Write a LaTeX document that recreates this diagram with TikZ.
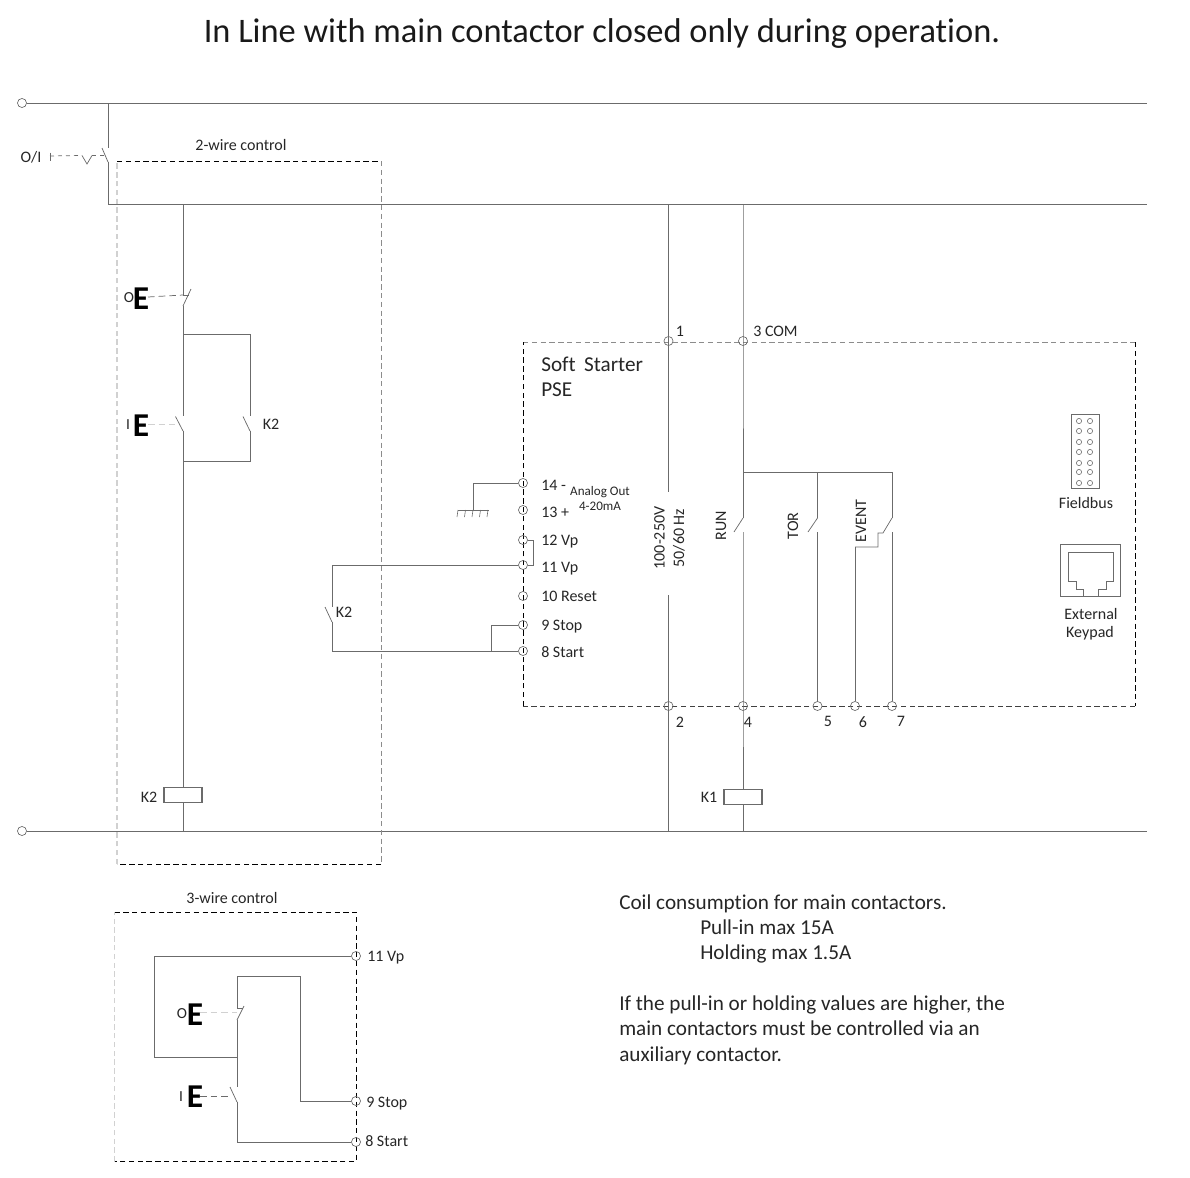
\documentclass[tikz,border=0pt]{standalone}
\usepackage{fontspec}
\setmainfont[Ligatures=NoCommon]{Carlito}
\tikzset{
  wire/.style={draw=wiregray, line width=0.7pt},
  thin wire/.style={draw=wiregray, line width=0.55pt},
  ctrl/.style={draw=black, line width=0.7pt, dash pattern=on 4pt off 2.6pt},
  ctrl gray/.style={draw=midgray, line width=0.7pt, dash pattern=on 4pt off 2.6pt},
  ctrl pale/.style={draw=palegray, line width=0.8pt, dash pattern=on 4pt off 2.6pt},
  term/.style={circle, draw=wiregray, line width=0.5pt, inner sep=0pt, minimum size=6.8pt},
  pin/.style={circle, draw=wiregray, line width=0.45pt, inner sep=0pt, minimum size=3.9pt},
  coil/.style={rectangle, draw=wiregray, fill=white, line width=0.8pt, inner sep=0pt, minimum width=28.5pt, minimum height=11pt},
  lbl/.style={inner sep=0pt, anchor=west, font=\fontsize{12}{14}\selectfont, text=black!85},
  mid/.style={inner sep=0pt, font=\fontsize{12}{14}\selectfont, text=black!85},
  note/.style={inner sep=0pt, anchor=west, font=\fontsize{15.9}{18}\selectfont, text=black!85},
  bigE/.style={inner sep=0pt, font=\fontsize{25}{28}\selectfont\bfseries, text=black},
  small/.style={inner sep=0pt, font=\fontsize{11.5}{13}\selectfont, text=black!85}
}
\definecolor{wiregray}{gray}{0.42}
\definecolor{midgray}{gray}{0.55}
\definecolor{palegray}{gray}{0.82}
\begin{document}
\begin{tikzpicture}[x=0.75pt,y=-0.75pt]
\useasboundingbox (0,0) rectangle (1190,1178);
\node (title) at (602,34) [inner sep=0pt, font=\fontsize{25.8}{30}\selectfont, text=black!90] {In Line with main contactor closed only during operation.};
% rails
\node (railL) at (22,103) [term] {};
\node (rail0) at (22,831) [term] {};
\coordinate (railR) at (1147,103);
\coordinate (rail0R) at (1147,831);
\coordinate (railN) at (1147,204.5);
\draw [wire] (railL) -- (railR);
\draw [wire] (rail0) -- (rail0R);
% main switch O/I
\coordinate (mainT) at (108,103);
\coordinate (mainA) at (108,148);
\coordinate (mainB) at (102,148);
\coordinate (mainC) at (108,162);
\coordinate (mainD) at (108,204.5);
\draw [wire] (mainT) -- (mainA);
\draw [thin wire] (mainB) -- (mainC);
\draw [wire] (mainC) -- (mainD) -- (railN);
\node (oi) at (31,157) [mid] {O/I};
\coordinate (tickA) at (50,152.5);
\coordinate (tickB) at (50,161);
\coordinate (tickC) at (50,156);
\coordinate (veeA) at (82,155.5);
\coordinate (veeB) at (87,164);
\coordinate (veeC) at (92,155.5);
\coordinate (veeD) at (105,155.5);
\draw [thin wire] (tickA) -- (tickB);
\draw [thin wire, dashed] (tickC) -- (veeA);
\draw [thin wire] (veeA) -- (veeB) -- (veeC);
\draw [thin wire, dashed] (veeC) -- (veeD);
% 2-wire control box
\coordinate (boxA) at (117,161);
\coordinate (boxB) at (381,161);
\coordinate (boxC) at (381,864);
\coordinate (boxD) at (117,864);
\draw [ctrl] (boxA) -- (boxB);
\draw [ctrl gray] (boxB) -- (boxC);
\draw [ctrl] (boxC) -- (boxD);
\draw [ctrl pale] (boxD) -- (boxA);
\node (twoWire) at (241,145) [mid] {2-wire control};
% left branch
\coordinate (lineT) at (183,204.5);
\coordinate (stopA) at (183,295);
\coordinate (stopB) at (189,295);
\coordinate (stopC) at (191,289);
\coordinate (stopD) at (183,306);
\coordinate (holdT) at (183,334);
\coordinate (holdR) at (250,334);
\coordinate (holdA) at (250,416);
\coordinate (holdB) at (243,416.5);
\coordinate (holdC) at (250,431);
\coordinate (holdE) at (250,461);
\coordinate (holdF) at (183,461);
\coordinate (startA) at (183,416);
\coordinate (startB) at (175.5,416.5);
\coordinate (startC) at (183,431);
\node (coilK2) at (183,795) [coil] {};
\coordinate (coilK2b) at (183,831);
\draw [wire] (lineT) -- (stopA) -- (stopB);
\draw [thin wire] (stopC) -- (stopD);
\draw [wire] (stopD) -- (startA);
\draw [thin wire] (startB) -- (startC);
\draw [wire] (startC) -- (coilK2);
\draw [wire] (coilK2) -- (coilK2b);
\draw [wire] (holdT) -- (holdR) -- (holdA);
\draw [thin wire] (holdB) -- (holdC);
\draw [wire] (holdC) -- (holdE) -- (holdF);
\node (labelK2) at (149,797) [mid] {K2};
\node (labelHold) at (271,424) [mid] {K2};
\node (btnO) at (141,299) [bigE] {E};
\node (btnOl) at (129,298) [small] {O};
\node (btnI) at (141,426) [bigE] {E};
\node (btnIl) at (128,425) [small] {I};
\coordinate (dashOa) at (148,297);
\coordinate (dashIa) at (148,424);
\coordinate (dashIb) at (175,424);
\draw [thin wire, dash pattern=on 5pt off 3pt] (dashOa) -- (stopA);
\draw [draw=palegray, line width=0.6pt, dash pattern=on 5pt off 3pt] (dashIa) -- (dashIb);
% soft starter
\coordinate (ssA) at (523,342);
\coordinate (ssB) at (1135,342);
\coordinate (ssC) at (1135,706);
\coordinate (ssD) at (523,706);
\draw [ctrl gray] (ssA) -- (ssB);
\draw [ctrl] (ssB) -- (ssC);
\draw [ctrl, draw=black!75] (ssC) -- (ssD);
\draw [ctrl] (ssD) -- (ssA);
\node (ssName) at (541,364) [note] {Soft\, Starter};
\node (ssType) at (541,390) [note] {PSE};
% terminals top and bottom
\node (t1) at (668.5,341) [term] {};
\node (t3) at (743,341) [term] {};
\node (t2) at (668.5,706) [term] {};
\node (t4) at (743,706) [term] {};
\node (t5) at (817.5,706) [term] {};
\node (t6) at (855,706) [term] {};
\node (t7) at (892,706) [term] {};
\node (l1) at (680,331) [mid] {1};
\node (l3) at (753,331) [lbl] {3 COM};
\node (l2) at (680,722) [mid] {2};
\node (l4) at (748,722) [mid] {4};
\node (l5) at (828,721) [mid] {5};
\node (l6) at (863,722) [mid] {6};
\node (l7) at (901,721) [mid] {7};
% supply
\coordinate (supT) at (668.5,204.5);
\coordinate (supA) at (668.5,492);
\coordinate (supB) at (668.5,595);
\coordinate (supE) at (668.5,831);
\draw [wire] (supT) -- (t1.center) -- (supA);
\draw [wire] (supB) -- (t2.center) -- (supE);
\node (volt) at (659.5,538) [mid, rotate=90] {100-250V};
\node (freq) at (679,538) [mid, rotate=90] {50/60 Hz};
% relay outputs
\coordinate (comT) at (743,204.5);
\coordinate (relJ) at (743,472);
\coordinate (relK) at (817.5,472);
\coordinate (relL) at (892,472);
\coordinate (runA) at (743,518);
\coordinate (runB) at (734,532);
\coordinate (runC) at (743,532);
\coordinate (torA) at (817.5,518);
\coordinate (torB) at (808,532);
\coordinate (torC) at (817.5,532);
\coordinate (evA) at (892,518);
\coordinate (evB) at (883,533);
\coordinate (evC) at (892,532);
\coordinate (evD) at (878,533);
\coordinate (evE) at (878,547);
\coordinate (evF) at (855,547);
\node (coilK1) at (743,797) [coil] {};
\coordinate (coilK1b) at (743,831);
\draw [wire] (comT) -- (t3.center) -- (runA);
\draw [thin wire] (runA) -- (runB);
\draw [wire] (runC) -- (t4.center) -- (coilK1);
\draw [wire] (coilK1) -- (coilK1b);
\draw [wire] (relJ) -- (relL) -- (evA);
\draw [wire] (relK) -- (torA);
\draw [thin wire] (torA) -- (torB);
\draw [wire] (torC) -- (t5);
\draw [thin wire] (evA) -- (evB) -- (evD) -- (evE) -- (evF);
\draw [wire] (evF) -- (t6);
\draw [wire] (evC) -- (t7);
\node (run) at (721,526) [mid, rotate=90] {RUN};
\node (tor) at (793,526) [mid, rotate=90] {TOR};
\node (event) at (861,521) [mid, rotate=90] {EVENT};
\node (labelK1) at (709,797) [mid] {K1};
% control terminals
\node (t14) at (523,483) [term] {};
\node (t13) at (523,510) [term] {};
\node (t12) at (523,540) [term] {};
\node (t11) at (523,565) [term] {};
\node (t10) at (523,596) [term] {};
\node (t9) at (523,625) [term] {};
\node (t8) at (523,651) [term] {};
\node (l14) at (541,485) [lbl] {14 -};
\node (l13) at (541,512) [lbl] {13 +};
\node (l12) at (541,542) [lbl] {12 Vp};
\node (l11) at (541,569) [lbl] {11 Vp};
\node (l10) at (541,596) [lbl] {10 Reset};
\node (l9) at (541,627) [lbl] {9 Stop};
\node (l8) at (541,652) [lbl] {8 Start};
\node (analog) at (600,492) [inner sep=0pt, font=\fontsize{9.8}{11}\selectfont, text=black!85] {Analog Out};
\node (analogB) at (600,506) [inner sep=0pt, font=\fontsize{9.8}{11}\selectfont, text=black!85] {4-20mA};
% analog out earth
\coordinate (gndA) at (473,483);
\coordinate (gndB) at (473,510);
\coordinate (gndL) at (457.5,510);
\coordinate (gndR) at (488.5,510);
\draw [thin wire] (t14) -- (gndA) -- (gndB);
\draw [thin wire] (gndL) -- (gndR);
\foreach \gx in {458,465.5,473,480.5,488}
  \draw [draw=wiregray, line width=0.45pt] (\gx,510) -- (\gx-1,517);
% bridge and K2 aux
\coordinate (brA) at (533,540);
\coordinate (brB) at (533,565);
\draw [thin wire] (t12) -- (brA) -- (brB) -- (t11);
\coordinate (auxT) at (332,565);
\coordinate (auxA) at (332,607);
\coordinate (auxB) at (325,607);
\coordinate (auxC) at (332,622);
\coordinate (auxE) at (332,651);
\coordinate (stopJ) at (491,651);
\coordinate (stopK) at (491,625);
\draw [thin wire] (t11) -- (auxT) -- (auxA);
\draw [thin wire] (auxB) -- (auxC);
\draw [thin wire] (auxC) -- (auxE) -- (t8);
\draw [thin wire] (stopJ) -- (stopK) -- (t9);
\node (labelAux) at (344,612) [mid] {K2};
% fieldbus and keypad
\node (fbus) at (1085,451.5) [rectangle, draw=wiregray, line width=0.6pt, inner sep=0pt, minimum width=21pt, minimum height=56pt] {};
\foreach \py in {421,431,442,452,463,472,483}
  \foreach \px in {1079,1090}
    \node at (\px,\py) [pin] {};
\node (fbusL) at (1086,503) [mid] {Fieldbus};
\node (keyp) at (1090.5,570) [rectangle, draw=wiregray, line width=0.6pt, inner sep=0pt, minimum width=44.5pt, minimum height=39pt] {};
\coordinate (kA) at (1068,552);
\coordinate (kB) at (1113,552);
\coordinate (kC) at (1113,581);
\coordinate (kD) at (1106,581);
\coordinate (kE) at (1106,589);
\coordinate (kF) at (1098,589);
\coordinate (kG) at (1098,596);
\coordinate (kH) at (1083,596);
\coordinate (kI) at (1083,589);
\coordinate (kJ) at (1076,589);
\coordinate (kK) at (1076,581);
\coordinate (kL) at (1068,581);
\draw [thin wire] (kA) -- (kB) -- (kC) -- (kD) -- (kE) -- (kF) -- (kG) -- (kH) -- (kI) -- (kJ) -- (kK) -- (kL) -- cycle;
\node (keyL) at (1091,614) [mid] {External};
\node (keyM) at (1090,633) [mid] {Keypad};
% 3-wire control
\coordinate (wbA) at (114.5,912);
\coordinate (wbB) at (356,912);
\coordinate (wbC) at (356,1161.5);
\coordinate (wbD) at (114.5,1161.5);
\draw [ctrl] (wbA) -- (wbB) -- (wbC) -- (wbD);
\draw [ctrl pale] (wbD) -- (wbA);
\node (threeWire) at (232,898) [mid] {3-wire control};
\node (w11) at (356,956) [term] {};
\node (w9) at (356,1101) [term] {};
\node (w8) at (356,1142) [term] {};
\node (lw11) at (367,958) [lbl] {11 Vp};
\node (lw9) at (366,1104) [lbl] {9 Stop};
\node (lw8) at (365,1141) [lbl] {8 Start};
\coordinate (loopA) at (154,956);
\coordinate (loopB) at (154,1057);
\coordinate (loopC) at (237,1057);
\coordinate (upA) at (237,976);
\coordinate (upB) at (300,976);
\coordinate (upC) at (300,1101);
\coordinate (noA) at (237,1008);
\coordinate (noB) at (243,1008);
\coordinate (noC) at (244,1006);
\coordinate (noD) at (237,1020);
\coordinate (onA) at (237,1087);
\coordinate (onB) at (230,1087);
\coordinate (onC) at (237,1102);
\coordinate (onE) at (237,1142);
\draw [wire] (w11) -- (loopA) -- (loopB) -- (loopC);
\draw [wire] (w9) -- (upC) -- (upB) -- (upA) -- (noA) -- (noB);
\draw [thin wire] (noC) -- (noD);
\draw [wire] (noD) -- (onA);
\draw [thin wire] (onB) -- (onC);
\draw [wire] (onC) -- (onE) -- (w8);
\node (btnO3) at (195,1015) [bigE] {E};
\node (btnO3l) at (182,1014) [small] {O};
\node (btnI3) at (195,1097) [bigE] {E};
\node (btnI3l) at (181,1097) [small] {I};
\coordinate (dO3) at (200,1012);
\coordinate (dI3) at (200,1096);
\coordinate (dI3b) at (230,1096);
\draw [draw=palegray, line width=0.6pt, dash pattern=on 5pt off 3pt] (dO3) -- (noA|-dO3);
\draw [thin wire, dash pattern=on 5pt off 3pt] (dI3) -- (dI3b);
% notes
\node (noteA) at (619,904) [note] {Coil consumption for main contactors.};
\node (noteB) at (700,927) [note] {Pull-in max 15A};
\node (noteC) at (700,954) [note] {Holding max 1.5A};
\node (noteD) at (619,1005) [note] {If the pull-in or holding values are higher, the};
\node (noteE) at (619,1028) [note] {main contactors must be controlled via an};
\node (noteF) at (619,1056) [note] {auxiliary contactor.};
\end{tikzpicture}
\end{document}
